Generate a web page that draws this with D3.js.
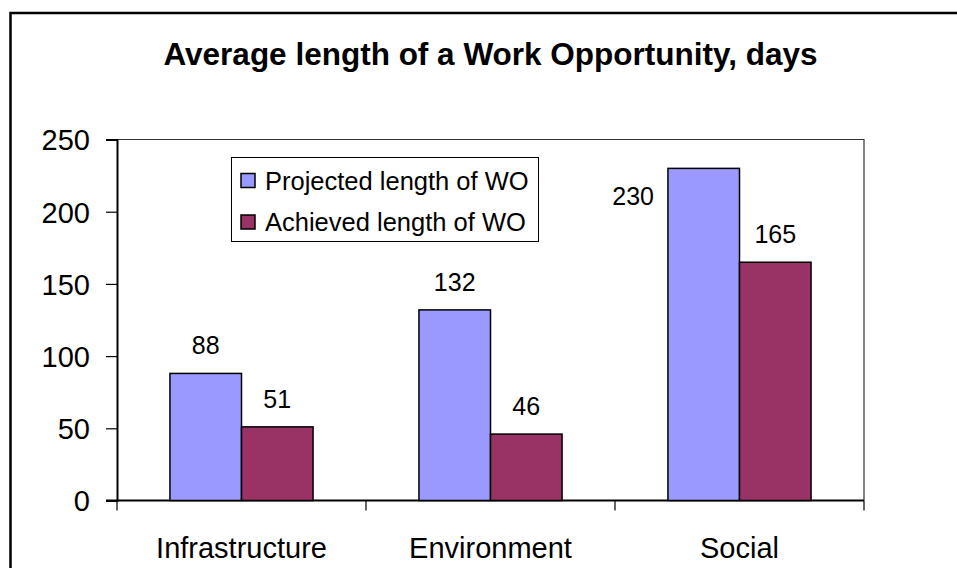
<!DOCTYPE html>
<html>
<head>
<meta charset="utf-8">
<script src="https://cdn.jsdelivr.net/npm/d3@7"></script>
<style>
  body { margin: 0; background: #fff; }
  text { font-family: "Liberation Sans", Arial, sans-serif; fill: #000; }
</style>
</head>
<body>
<svg></svg>
<script>
var width = 957,
    height = 568;

// data
var categories = ["Infrastructure", "Environment", "Social"];
var seriesNames = ["Projected length of WO", "Achieved length of WO"];
var projected = [88, 132, 230];
var achieved = [51, 46, 165];
var yTicks = [0, 50, 100, 150, 200, 250];
var colors = ["#9999ff", "#993366"];

var svg = d3.select("svg")
    .attr("width", width)
    .attr("height", height);

// outer chart border (runs off the right/bottom edge)
svg.append("rect")
  .attr("x", 10.5).attr("y", 13)
  .attr("width", 1000).attr("height", 700)
  .attr("fill", "none")
  .attr("stroke", "#000")
  .attr("stroke-width", 2.5);

var plot = {left: 117, right: 864, top: 139.5, bottom: 500.5};

var x0 = d3.scaleBand()
  .domain(categories)
  .range([plot.left, plot.right]);

var x1 = d3.scaleBand()
  .domain(seriesNames)
  .range([0, x0.bandwidth()])
  .paddingOuter(0.74);

var y = d3.scaleLinear()
  .domain([0, 250])
  .range([plot.bottom, plot.top]);

// title
svg.append("text")
  .attr("x", (plot.left + plot.right) / 2)
  .attr("y", 65)
  .attr("text-anchor", "middle")
  .style("font-size", "31.5px")
  .style("font-weight", "bold")
  .text("Average length of a Work Opportunity, days");

// plot area frame (top + right)
svg.append("path")
  .attr("d", "M" + plot.left + "," + plot.top + "H" + plot.right + "V" + plot.bottom)
  .attr("fill", "none")
  .attr("stroke", "#333")
  .attr("stroke-width", 1.2);

// y axis
var yAxis = svg.append("g")
  .attr("transform", "translate(" + plot.left + ",0)")
  .call(d3.axisLeft(y).tickValues(yTicks).tickSize(11).tickPadding(16));
yAxis.select(".domain").attr("stroke-width", 2);
yAxis.selectAll(".tick line").attr("stroke-width", 1.2);
yAxis.selectAll(".tick text")
  .style("font-size", "29px")
  .style("font-family", "'Liberation Sans', Arial, sans-serif")
  .attr("dy", "0.36em");

// x axis with ticks at category boundaries
var xAxis = svg.append("g")
  .attr("transform", "translate(0," + plot.bottom + ")");
xAxis.append("line")
  .attr("x1", plot.left - 11).attr("x2", plot.right)
  .attr("stroke", "#000").attr("stroke-width", 2);
var bounds = categories.map(function(c) { return x0(c); }).concat([plot.right]);
xAxis.selectAll(".sep")
  .data(bounds)
  .enter().append("line")
    .attr("class", "sep")
    .attr("x1", function(d) { return d; })
    .attr("x2", function(d) { return d; })
    .attr("y1", 0).attr("y2", 10)
    .attr("stroke", "#000").attr("stroke-width", 1.2);
xAxis.selectAll(".cat")
  .data(categories)
  .enter().append("text")
    .attr("class", "cat")
    .attr("x", function(d) { return x0(d) + x0.bandwidth() / 2; })
    .attr("y", 57)
    .attr("text-anchor", "middle")
    .style("font-size", "29px")
    .text(function(d) { return d; });

// bars
var rows = categories.map(function(c, i) {
  return {cat: c, values: [
    {series: seriesNames[0], value: projected[i], k: 0},
    {series: seriesNames[1], value: achieved[i], k: 1}
  ]};
});

var group = svg.selectAll(".grp")
    .data(rows)
  .enter().append("g")
    .attr("class", "grp")
    .attr("transform", function(d) { return "translate(" + x0(d.cat) + ",0)"; });

group.selectAll("rect")
    .data(function(d) { return d.values; })
  .enter().append("rect")
    .attr("x", function(d) { return x1(d.series); })
    .attr("y", function(d) { return y(d.value); })
    .attr("width", x1.bandwidth())
    .attr("height", function(d) { return plot.bottom - y(d.value); })
    .attr("fill", function(d) { return colors[d.k]; })
    .attr("stroke", "#000")
    .attr("stroke-width", 1.5);

// value labels; if no room above, put label left of the bar
group.selectAll(".val")
    .data(function(d) { return d.values; })
  .enter().append("text")
    .attr("class", "val")
    .style("font-size", "25px")
    .each(function(d) {
      var t = d3.select(this).text(d.value);
      var top = y(d.value);
      if (top - 40 < plot.top) {
        t.attr("x", x1(d.series) - 14)
         .attr("y", top + 37)
         .attr("text-anchor", "end");
      } else {
        t.attr("x", x1(d.series) + x1.bandwidth() / 2)
         .attr("y", top - 19)
         .attr("text-anchor", "middle");
      }
    });

// legend
var legend = svg.append("g")
  .attr("transform", "translate(231,157)");
legend.append("rect")
  .attr("x", 0.5).attr("y", 0.5)
  .attr("width", 307).attr("height", 84)
  .attr("fill", "#fff")
  .attr("stroke", "#000")
  .attr("stroke-width", 1);
var item = legend.selectAll(".item")
    .data(seriesNames)
  .enter().append("g")
    .attr("class", "item")
    .attr("transform", function(d, i) { return "translate(0," + (23.5 + i * 41.5) + ")"; });
item.append("rect")
  .attr("x", 10).attr("y", -7)
  .attr("width", 14).attr("height", 14)
  .attr("fill", function(d, i) { return colors[i]; })
  .attr("stroke", "#000")
  .attr("stroke-width", 1.5);
item.append("text")
  .attr("x", 34)
  .attr("dy", "0.36em")
  .style("font-size", "25.5px")
  .text(function(d) { return d; });
</script>
</body>
</html>
